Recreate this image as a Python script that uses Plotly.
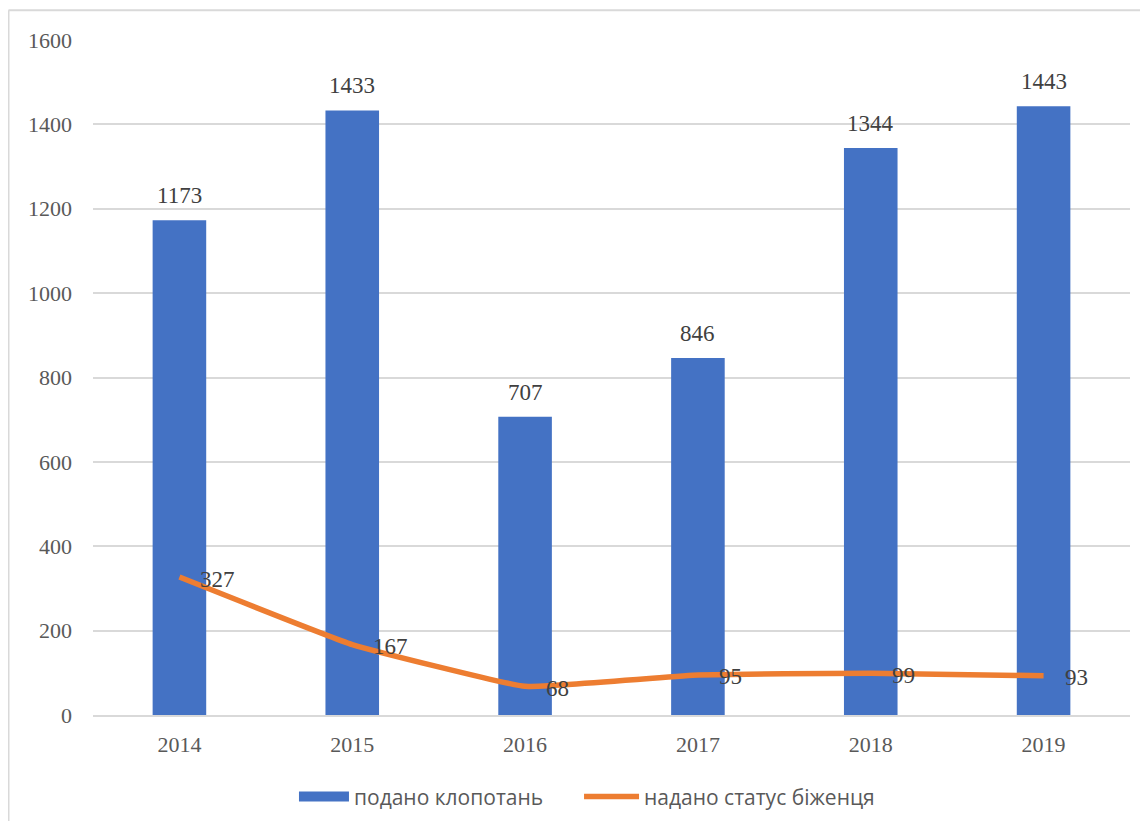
import plotly.graph_objects as go

years = ["2014", "2015", "2016", "2017", "2018", "2019"]
applications = [1173, 1433, 707, 846, 1344, 1443]
granted = [327, 167, 68, 95, 99, 93]
y_ticks = [0, 200, 400, 600, 800, 1000, 1200, 1400, 1600]

serif = "Liberation Serif, Times New Roman, serif"
sans = "Open Sans, Liberation Sans, sans-serif"
blue = "#4472C4"
orange = "#ED7D31"

fig = go.Figure()
fig.add_trace(go.Bar(
    x=years, y=applications, name="подано клопотань",
    marker=dict(color=blue, line=dict(width=0)),
    width=0.31, showlegend=False,
))
# legend proxy for the bar series (wide rectangle symbol)
fig.add_trace(go.Scatter(
    x=[years[0]], y=[None], name="подано клопотань", mode="lines",
    line=dict(color=blue, width=15), legend="legend",
))
fig.add_trace(go.Scatter(
    x=years, y=granted, name="надано статус біженця",
    mode="lines",
    line=dict(color=orange, width=5.5, shape="spline", smoothing=0.3),
    legend="legend2",
))

annotations = []
for i, v in enumerate(applications):
    annotations.append(dict(x=i, y=v, text=str(v), showarrow=False,
                            xanchor="center", yanchor="bottom", yshift=10,
                            font=dict(family=serif, size=23, color="#404040")))
for i, v in enumerate(granted):
    annotations.append(dict(x=i, y=v, text=str(v), showarrow=False,
                            xanchor="left", yanchor="middle", xshift=19, yshift=-2,
                            font=dict(family=serif, size=23, color="#404040")))

legend_font = dict(family=sans, size=21, color="#595959")

fig.update_layout(
    width=1132, height=813,
    margin=dict(l=85, r=10, t=32, b=106, autoexpand=False),
    paper_bgcolor="white", plot_bgcolor="white",
    showlegend=True,
    legend=dict(orientation="h", x=0.1938, xanchor="left", y=-0.091, yanchor="top",
                font=legend_font, itemwidth=50),
    legend2=dict(orientation="h", x=0.4687, xanchor="left", y=-0.091, yanchor="top",
                 font=legend_font, itemwidth=55),
    xaxis=dict(type="category", categoryorder="array", categoryarray=years,
               range=[-0.5, len(years) - 0.5], showgrid=False, showline=True,
               linecolor="#D9D9D9", linewidth=2,
               tickfont=dict(family=serif, size=22, color="#595959"), ticks="",
               ticklabelstandoff=9),
    yaxis=dict(range=[0, 1600], tickvals=y_ticks, showgrid=True, gridcolor="#D9D9D9",
               gridwidth=1.5, zeroline=False, showline=False, ticks="",
               tickfont=dict(family=serif, size=22, color="#595959"), ticklabelstandoff=20),
    bargap=0.69,
    annotations=annotations,
    shapes=[
        dict(type="line", xref="paper", yref="paper", x0=-0.0815, x1=1.02, y0=1.044, y1=1.044,
             line=dict(color="#D9D9D9", width=2)),
        dict(type="line", xref="paper", yref="paper", x0=-0.0815, x1=-0.0815, y0=1.044, y1=-0.2,
             line=dict(color="#D9D9D9", width=2)),
    ],
)

fig.write_html("out.html")
